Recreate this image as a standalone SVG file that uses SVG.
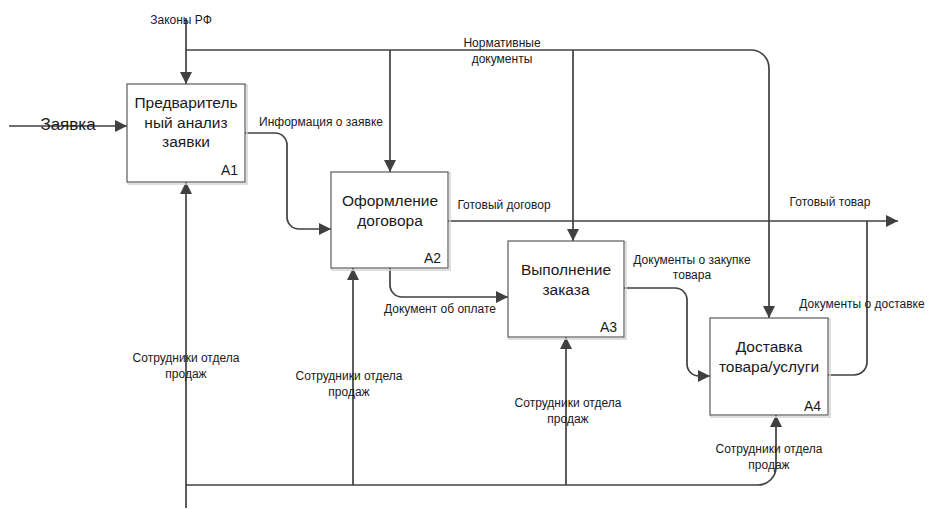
<svg xmlns="http://www.w3.org/2000/svg" width="928" height="509" viewBox="0 0 928 509">
  <style>
    .bg { fill: #ffffff; }
    .box { fill: #ffffff; stroke: #5a5a5a; stroke-width: 1.2; }
    .shadow { fill: none; stroke: #d4d4d4; stroke-width: 1.5; }
    .title { font-family: "Liberation Sans", Arial, sans-serif; font-size: 15.5px; fill: #1a1a1a; text-anchor: middle; }
    .num { font-family: "Liberation Sans", Arial, sans-serif; font-size: 14px; fill: #1a1a1a; text-anchor: end; }
    .lbl { font-family: "Liberation Sans", Arial, sans-serif; font-size: 12px; fill: #1a1a1a; text-anchor: middle; }
    .big { font-family: "Liberation Sans", Arial, sans-serif; font-size: 17px; fill: #1a1a1a; text-anchor: middle; }
    .ln { fill: none; stroke: #404040; stroke-width: 1.7; }
    .arr { marker-end: url(#ah); }
  </style>
  <defs>
    <marker id="ah" markerUnits="userSpaceOnUse" markerWidth="12" markerHeight="12" refX="12" refY="6" orient="auto">
      <path d="M0,0 L12,6 L0,12 z" fill="#404040"/>
    </marker>
  </defs>

  <rect class="bg" x="0" y="0" width="928" height="509"/>

  <!-- connectors -->
  <g id="connectors">
    <!-- controls -->
    <path class="ln arr" d="M186,18 V84"/>
    <path class="ln arr" d="M186,50 H751 A18,18 0 0 1 769,68 V318"/>
    <path class="ln arr" d="M390,50 V172"/>
    <path class="ln arr" d="M573,50 V241"/>
    <!-- input -->
    <path class="ln arr" d="M9,126 H127"/>
    <!-- A1 to A2 -->
    <path class="ln arr" d="M245,133 H275 A12,12 0 0 1 287,145 V217 A12,12 0 0 0 299,229 H331"/>
    <!-- A2 to A3 -->
    <path class="ln arr" d="M390,268 V285 A12,12 0 0 0 402,297 H508"/>
    <!-- A2 output, finished goods -->
    <path class="ln arr" d="M448,221 H898"/>
    <!-- A3 to A4 -->
    <path class="ln arr" d="M624,288 H675 A12,12 0 0 1 687,300 V364 A12,12 0 0 0 699,376 H710"/>
    <!-- A4 output joins the main output -->
    <path class="ln" d="M828,375 H854 A13,13 0 0 0 867,362 V221"/>
    <!-- mechanisms -->
    <path class="ln arr" d="M186,508 V182"/>
    <path class="ln arr" d="M186,485 H758 A18,18 0 0 0 776,467 V415"/>
    <path class="ln arr" d="M353,485 V268"/>
    <path class="ln arr" d="M566,485 V337"/>
  </g>

  <!-- arrow labels -->
  <g id="labels">
    <text class="lbl" x="181" y="24">Законы РФ</text>
    <text class="lbl" x="502" y="47">Нормативные</text>
    <text class="lbl" x="502" y="63">документы</text>
    <text class="big" x="68" y="130">Заявка</text>
    <text class="lbl" x="321" y="126">Информация о заявке</text>
    <text class="lbl" x="504" y="209">Готовый договор</text>
    <text class="lbl" x="440" y="313">Документ об оплате</text>
    <text class="lbl" x="692" y="264">Документы о закупке</text>
    <text class="lbl" x="692" y="279">товара</text>
    <text class="lbl" x="830" y="206">Готовый товар</text>
    <text class="lbl" x="862" y="308">Документы о доставке</text>
    <text class="lbl" x="186" y="362">Сотрудники отдела</text>
    <text class="lbl" x="186" y="378">продаж</text>
    <text class="lbl" x="349" y="380">Сотрудники отдела</text>
    <text class="lbl" x="349" y="396">продаж</text>
    <text class="lbl" x="568" y="407">Сотрудники отдела</text>
    <text class="lbl" x="568" y="423">продаж</text>
    <text class="lbl" x="769" y="453">Сотрудники отдела</text>
    <text class="lbl" x="769" y="469">продаж</text>
  </g>

  <!-- activity boxes -->
  <g id="A1">
    <rect class="shadow" x="128" y="85" width="119" height="99"/>
    <rect class="box" x="127" y="84" width="118" height="98"/>
    <text class="title" x="186" y="108">Предваритель</text>
    <text class="title" x="186" y="128">ный анализ</text>
    <text class="title" x="186" y="147">заявки</text>
    <text class="num" x="238" y="175">A1</text>
  </g>
  <g id="A2">
    <rect class="shadow" x="332" y="173" width="118" height="97"/>
    <rect class="box" x="331" y="172" width="117" height="96"/>
    <text class="title" x="390" y="206">Оформление</text>
    <text class="title" x="390" y="226">договора</text>
    <text class="num" x="441" y="263">A2</text>
  </g>
  <g id="A3">
    <rect class="shadow" x="509" y="242" width="117" height="97"/>
    <rect class="box" x="508" y="241" width="116" height="96"/>
    <text class="title" x="566" y="275">Выполнение</text>
    <text class="title" x="566" y="295">заказа</text>
    <text class="num" x="617" y="332">A3</text>
  </g>
  <g id="A4">
    <rect class="shadow" x="711" y="319" width="119" height="98"/>
    <rect class="box" x="710" y="318" width="118" height="97"/>
    <text class="title" x="769" y="352">Доставка</text>
    <text class="title" x="769" y="372">товара/услуги</text>
    <text class="num" x="821" y="411">A4</text>
  </g>
</svg>
